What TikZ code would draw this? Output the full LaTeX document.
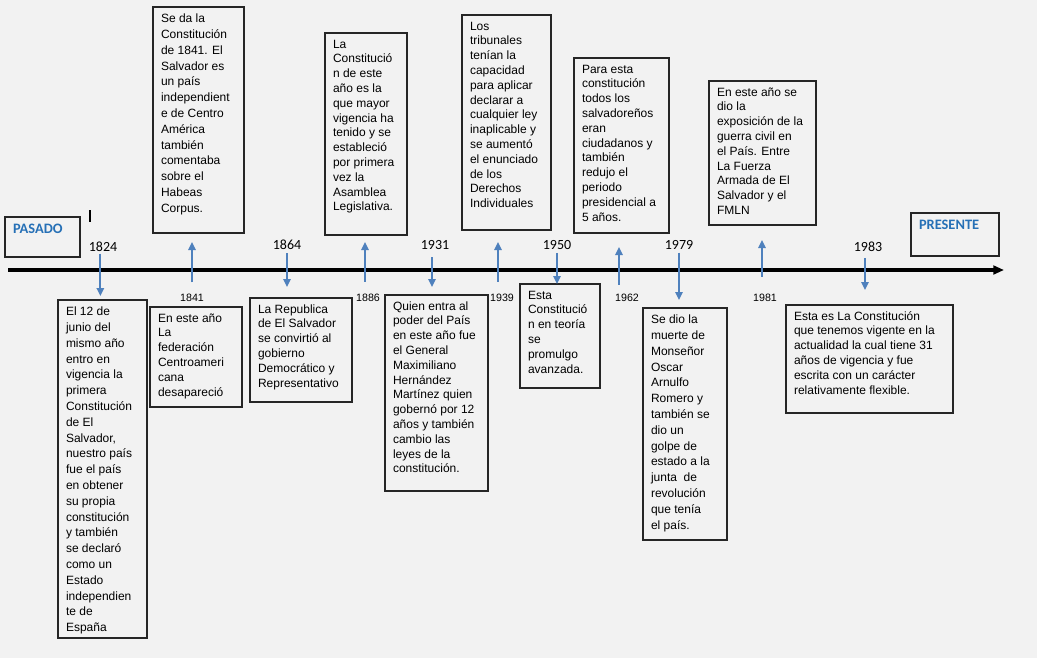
\documentclass[tikz,border=0pt]{standalone}
\usepackage{fontspec}
\setmainfont{Liberation Sans}
\newfontfamily\carlito{Carlito}
\usetikzlibrary{arrows.meta}

\definecolor{azulFlecha}{RGB}{79,129,189}
\definecolor{azulTitulo}{RGB}{38,112,182}
\definecolor{fondo}{RGB}{242,242,242}

\newcommand{\evfont}{\fontsize{9}{11.1}\selectfont}
\newcommand{\evfontamplio}{\fontsize{9}{11.85}\selectfont}
\newcommand{\aniofont}{\carlito\fontsize{10.5}{12}\selectfont}
\newcommand{\chicofont}{\fontsize{8}{9.6}\selectfont}
\newcommand{\extfont}{\carlito\bfseries\fontsize{10.8}{13}\selectfont}

\tikzset{every picture/.style={line width=0.75pt}}
\tikzset{
  evento/.style={draw=black!85, line width=1.2pt, anchor=north west, inner xsep=6pt, inner ysep=3.5pt, outer sep=0pt, font=\evfont},
  evamplio/.style={evento, font=\evfontamplio},
  extremo/.style={evento, font=\extfont, text=azulTitulo},
  anioalto/.style={font=\aniofont, inner sep=1pt},
  aniobajo/.style={font=\chicofont, inner sep=1pt},
  flecha/.style={draw=azulFlecha, line width=1.4pt, -{Triangle[length=6pt,width=5.5pt]}},
  eje/.style={line width=2.4pt, -{Triangle[length=8pt,width=6.5pt]}},
}

\begin{document}
\begin{tikzpicture}[x=0.75pt,y=0.75pt,yscale=-1,xscale=1]
    %Shape: Rectangle (fondo)
    \fill[fondo] (0,0) rectangle (1037,658);
    \useasboundingbox (0,0) rectangle (1037,658);

    %Straight Lines: linea de tiempo
    \coordinate (inicio) at (8,270);
    \coordinate (fin) at (1004,270);
    \draw[eje] (inicio) -- (fin);
    %Straight Lines: marca
    \draw[line width=1.1pt] (90,210) -- (90,222);

    %Shape: Rectangle [pasado / presente]
    \draw (5,217) node[extremo] (pasado) {\parbox[t][23pt][t]{44.25pt}{\strut PASADO}};
    \draw (911,213) node[extremo] (presente) {\parbox[t][25.25pt][t]{54pt}{\strut PRESENTE}};

    % Text Node: años arriba de la linea
    \draw (103,247) node[anioalto] (y1824) {1824};
    \draw (287,245) node[anioalto] (y1864) {1864};
    \draw (435,245) node[anioalto] (y1931) {1931};
    \draw (557,245) node[anioalto] (y1950) {1950};
    \draw (679,245) node[anioalto] (y1979) {1979};
    \draw (868,247) node[anioalto] (y1983) {1983};
    % Text Node: años abajo de la linea
    \draw (192,298) node[aniobajo] (y1841) {1841};
    \draw (368,298) node[aniobajo] (y1886) {1886};
    \draw (502,298) node[aniobajo] (y1939) {1939};
    \draw (627,298) node[aniobajo] (y1962) {1962};
    \draw (765,298) node[aniobajo] (y1981) {1981};

    %Shape: Rectangle [1824]
    \draw (58,300) node[evamplio] (b1824) {\parbox[t][246.5pt][t]{54.75pt}{\raggedright\strut El 12 de\\ junio del\\ mismo año\\ entro en\\ vigencia la\\ primera\\ Constitución\\ de El\\ Salvador,\\ nuestro país\\ fue el país\\ en obtener\\ su propia\\ constitución\\ y también\\ se declaró\\ como un\\ Estado\\ independien\\ te de\\ España}};
    %Shape: Rectangle [1841 arriba]
    \draw (153,7) node[evamplio] (b1841a) {\parbox[t][162.5pt][t]{56.25pt}{\raggedright\strut Se da la\\ Constitución\\ de 1841. El\\ Salvador es\\ un país\\ independient\\ e de Centro\\ América\\ también\\ comentaba\\ sobre el\\ Habeas\\ Corpus.}};
    %Shape: Rectangle [1841 abajo]
    \draw (150,307) node[evento] (b1841b) {\parbox[t][68pt][t]{57pt}{\raggedright\strut En este año\\ La\\ federación\\ Centroameri\\ cana\\ desapareció}};
    %Shape: Rectangle [1864]
    \draw (250,298) node[evento] (b1864) {\parbox[t][71pt][t]{64.5pt}{\raggedright\strut La Republica\\ de El Salvador\\ se convirtió al\\ gobierno\\ Democrático y\\ Representativo}};
    %Shape: Rectangle [1886]
    \draw (325,33) node[evento] (b1886) {\parbox[t][144.5pt][t]{49.5pt}{\raggedright\strut La\\ Constitució\\ n de este\\ año es la\\ que mayor\\ vigencia ha\\ tenido y se\\ estableció\\ por primera\\ vez la\\ Asamblea\\ Legislativa.}};
    %Shape: Rectangle [1931]
    \draw (385,295) node[evento] (b1931) {\parbox[t][140pt][t]{65.25pt}{\raggedright\strut Quien entra al\\ poder del País\\ en este año fue\\ el General\\ Maximiliano\\ Hernández\\ Martínez quien\\ gobernó por 12\\ años y también\\ cambio las\\ leyes de la\\ constitución.}};
    %Shape: Rectangle [1939]
    \draw (462,15) node[evento] (b1939) {\parbox[t][154.25pt][t]{54.75pt}{\raggedright\strut Los\\ tribunales\\ tenían la\\ capacidad\\ para aplicar\\ declarar a\\ cualquier ley\\ inaplicable y\\ se aumentó\\ el enunciado\\ de los\\ Derechos\\ Individuales}};
    %Shape: Rectangle [1950]
    \draw (520,284) node[evento] (b1950) {\parbox[t][71pt][t]{48pt}{\raggedright\strut Esta\\ Constitució\\ n en teoría\\ se\\ promulgo\\ avanzada.}};
    %Shape: Rectangle [1962]
    \draw (574,58) node[evento] (b1962) {\parbox[t][124.25pt][t]{59.25pt}{\raggedright\strut Para esta\\ constitución\\ todos los\\ salvadoreños\\ eran\\ ciudadanos y\\ también\\ redujo el\\ periodo\\ presidencial a\\ 5 años.}};
    %Shape: Rectangle [1979]
    \draw (643,308) node[evamplio] (b1979) {\parbox[t][167pt][t]{51pt}{\raggedright\strut Se dio la\\ muerte de\\ Monseñor\\ Oscar\\ Arnulfo\\ Romero y\\ también se\\ dio un\\ golpe de\\ estado a la\\ junta\ \ de\\ revolución\\ que tenía\\ el país.}};
    %Shape: Rectangle [1981]
    \draw (709,81) node[evento] (b1981) {\parbox[t][101pt][t]{68.25pt}{\raggedright\strut En este año se\\ dio la\\ exposición de la\\ guerra civil en\\ el País. Entre\\ La Fuerza\\ Armada de El\\ Salvador y el\\ FMLN}};
    %Shape: Rectangle [1983]
    \draw (786,305) node[evento] (b1983) {\parbox[t][74pt][t]{113.25pt}{\raggedright\strut Esta es La Constitución\\ que tenemos vigente en la\\ actualidad la cual tiene 31\\ años de vigencia y fue\\ escrita con un carácter\\ relativamente flexible.}};

    %Straight Lines: flechas hacia abajo
    \draw[flecha, shorten >=3pt] ([xshift=-2pt]y1824.south) -- ([xshift=-2pt]y1824.south |- b1824.north);
    \draw[flecha, shorten <=1pt, shorten >=8.25pt] (y1864.south) -- (y1864.south |- b1864.north);
    \draw[flecha, shorten <=4.5pt, shorten >=6pt] ([xshift=-2.25pt]y1931.south) -- ([xshift=-2.25pt]y1931.south |- b1931.north);
    \draw[flecha, shorten <=1pt] (y1950.south) -- (y1950.south |- b1950.north);
    \draw[flecha, shorten <=1pt, shorten >=6pt] (y1979.south) -- (y1979.south |- b1979.north);
    \draw[flecha, shorten <=3.2pt, shorten >=11.25pt] ([xshift=-2.25pt]y1983.south) -- ([xshift=-2.25pt]y1983.south |- b1983.north);
    %Straight Lines: flechas hacia arriba
    \draw[flecha, shorten <=7.5pt, shorten >=6.75pt] (y1841.north) -- (y1841.north |- b1841a.south);
    \draw[flecha, shorten <=8pt, shorten >=5.25pt] ([xshift=-2.25pt]y1886.north) -- ([xshift=-2.25pt]y1886.north |- b1886.south);
    \draw[flecha, shorten <=8pt, shorten >=9pt] ([xshift=-3pt]y1939.north) -- ([xshift=-3pt]y1939.north |- b1939.south);
    \draw[flecha, shorten <=5.9pt, shorten >=10.5pt] ([xshift=-6pt]y1962.north) -- ([xshift=-6pt]y1962.north |- b1962.south);
    \draw[flecha, shorten <=11.9pt, shorten >=11.25pt] ([xshift=-2.25pt]y1981.north) -- ([xshift=-2.25pt]y1981.north |- b1981.south);
\end{tikzpicture}
\end{document}
